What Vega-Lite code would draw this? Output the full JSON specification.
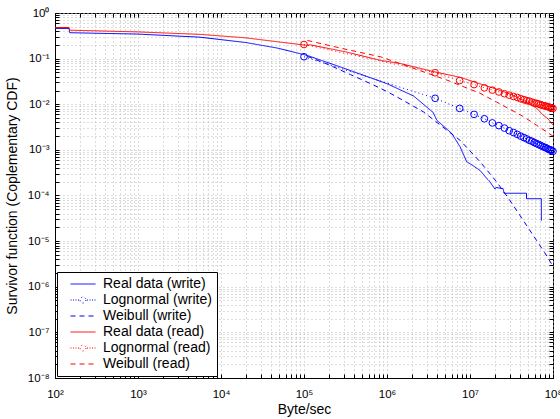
{
  "$schema": "https://vega.github.io/schema/vega-lite/v6.json",
  "width": 498,
  "height": 365,
  "autosize": {"type": "none"},
  "padding": {"left": 55, "top": 13, "right": 7, "bottom": 41},
  "background": "white",
  "config": {
    "view": {"stroke": "black", "strokeWidth": 1},
    "font": "Liberation Sans",
    "axis": {
      "labelFont": "Liberation Sans", "titleFont": "Liberation Sans",
      "labelColor": "black", "titleColor": "black", "tickColor": "black", "domainColor": "black",
      "titleFontWeight": "normal", "labelFontSize": 11.5, "titleFontSize": 14,
      "labelOverlap": false, "labelFlush": false, "labelBound": false
    }
  },
  "data": {"values": [
    {"s": "Real data (write)", "x": 100, "y": 0.46},
    {"s": "Real data (write)", "x": 148, "y": 0.46},
    {"s": "Real data (write)", "x": 150, "y": 0.37},
    {"s": "Real data (write)", "x": 1000, "y": 0.345},
    {"s": "Real data (write)", "x": 5600, "y": 0.295},
    {"s": "Real data (write)", "x": 20000, "y": 0.225},
    {"s": "Real data (write)", "x": 48000, "y": 0.17},
    {"s": "Real data (write)", "x": 110000, "y": 0.117},
    {"s": "Real data (write)", "x": 316000, "y": 0.06},
    {"s": "Real data (write)", "x": 1000000, "y": 0.0282},
    {"s": "Real data (write)", "x": 2100000, "y": 0.0151},
    {"s": "Real data (write)", "x": 3600000, "y": 0.0066},
    {"s": "Real data (write)", "x": 3980000, "y": 0.00447},
    {"s": "Real data (write)", "x": 5000000, "y": 0.0031},
    {"s": "Real data (write)", "x": 6030000, "y": 0.00229},
    {"s": "Real data (write)", "x": 7590000, "y": 0.00117},
    {"s": "Real data (write)", "x": 9120000, "y": 0.00055},
    {"s": "Real data (write)", "x": 10500000, "y": 0.00047},
    {"s": "Real data (write)", "x": 11500000, "y": 0.00042},
    {"s": "Real data (write)", "x": 13200000, "y": 0.000355},
    {"s": "Real data (write)", "x": 15800000, "y": 0.00024},
    {"s": "Real data (write)", "x": 17000000, "y": 0.00021},
    {"s": "Real data (write)", "x": 20000000, "y": 0.000138},
    {"s": "Real data (write)", "x": 20500000, "y": 0.00015},
    {"s": "Real data (write)", "x": 25100000, "y": 0.000141},
    {"s": "Real data (write)", "x": 25700000, "y": 0.000112},
    {"s": "Real data (write)", "x": 47900000, "y": 0.000112},
    {"s": "Real data (write)", "x": 48000000, "y": 0.000085},
    {"s": "Real data (write)", "x": 72400000, "y": 0.000085},
    {"s": "Real data (write)", "x": 72500000, "y": 0.000028},

    {"s": "Weibull (write)", "x": 110000, "y": 0.112},
    {"s": "Weibull (write)", "x": 190000, "y": 0.076},
    {"s": "Weibull (write)", "x": 363000, "y": 0.0447},
    {"s": "Weibull (write)", "x": 692000, "y": 0.0263},
    {"s": "Weibull (write)", "x": 1000000, "y": 0.019},
    {"s": "Weibull (write)", "x": 1510000, "y": 0.0126},
    {"s": "Weibull (write)", "x": 2750000, "y": 0.0068},
    {"s": "Weibull (write)", "x": 4570000, "y": 0.0033},
    {"s": "Weibull (write)", "x": 7590000, "y": 0.00162},
    {"s": "Weibull (write)", "x": 13200000, "y": 0.00055},
    {"s": "Weibull (write)", "x": 20900000, "y": 0.0002},
    {"s": "Weibull (write)", "x": 28800000, "y": 0.000089},
    {"s": "Weibull (write)", "x": 39800000, "y": 0.000037},
    {"s": "Weibull (write)", "x": 63100000, "y": 0.0000105},
    {"s": "Weibull (write)", "x": 79400000, "y": 0.0000056},
    {"s": "Weibull (write)", "x": 100000000, "y": 0.0000028},

    {"s": "Real data (read)", "x": 100, "y": 0.48},
    {"s": "Real data (read)", "x": 148, "y": 0.48},
    {"s": "Real data (read)", "x": 150, "y": 0.42},
    {"s": "Real data (read)", "x": 1000, "y": 0.385},
    {"s": "Real data (read)", "x": 5600, "y": 0.34},
    {"s": "Real data (read)", "x": 20000, "y": 0.285},
    {"s": "Real data (read)", "x": 48000, "y": 0.234},
    {"s": "Real data (read)", "x": 105000, "y": 0.197},
    {"s": "Real data (read)", "x": 120000, "y": 0.2},
    {"s": "Real data (read)", "x": 316000, "y": 0.141},
    {"s": "Real data (read)", "x": 830000, "y": 0.092},
    {"s": "Real data (read)", "x": 1450000, "y": 0.078},
    {"s": "Real data (read)", "x": 3800000, "y": 0.051},
    {"s": "Real data (read)", "x": 7600000, "y": 0.039},
    {"s": "Real data (read)", "x": 13200000, "y": 0.028},
    {"s": "Real data (read)", "x": 20000000, "y": 0.022},
    {"s": "Real data (read)", "x": 33000000, "y": 0.0158},
    {"s": "Real data (read)", "x": 40000000, "y": 0.0132},
    {"s": "Real data (read)", "x": 52000000, "y": 0.0105},
    {"s": "Real data (read)", "x": 60000000, "y": 0.0086},
    {"s": "Real data (read)", "x": 63000000, "y": 0.0083},
    {"s": "Real data (read)", "x": 76000000, "y": 0.0058},
    {"s": "Real data (read)", "x": 87000000, "y": 0.0048},
    {"s": "Real data (read)", "x": 100000000, "y": 0.0035},

    {"s": "Weibull (read)", "x": 110000, "y": 0.25},
    {"s": "Weibull (read)", "x": 330000, "y": 0.158},
    {"s": "Weibull (read)", "x": 830000, "y": 0.11},
    {"s": "Weibull (read)", "x": 2000000, "y": 0.063},
    {"s": "Weibull (read)", "x": 5250000, "y": 0.034},
    {"s": "Weibull (read)", "x": 13200000, "y": 0.0174},
    {"s": "Weibull (read)", "x": 20900000, "y": 0.0112},
    {"s": "Weibull (read)", "x": 43700000, "y": 0.0054},
    {"s": "Weibull (read)", "x": 63100000, "y": 0.0035},
    {"s": "Weibull (read)", "x": 100000000, "y": 0.002},

    {"s": "Lognormal (write)", "x": 100000, "y": 0.11},
    {"s": "Lognormal (write)", "x": 3800000, "y": 0.0135},
    {"s": "Lognormal (write)", "x": 7500000, "y": 0.0081},
    {"s": "Lognormal (write)", "x": 11200000, "y": 0.006},
    {"s": "Lognormal (write)", "x": 14900000, "y": 0.0048},
    {"s": "Lognormal (write)", "x": 18600000, "y": 0.0039},
    {"s": "Lognormal (write)", "x": 22300000, "y": 0.0034},
    {"s": "Lognormal (write)", "x": 26000000, "y": 0.003},
    {"s": "Lognormal (write)", "x": 29700000, "y": 0.00263},
    {"s": "Lognormal (write)", "x": 33400000, "y": 0.0024},
    {"s": "Lognormal (write)", "x": 37100000, "y": 0.00219},
    {"s": "Lognormal (write)", "x": 40800000, "y": 0.002},
    {"s": "Lognormal (write)", "x": 44500000, "y": 0.00186},
    {"s": "Lognormal (write)", "x": 48200000, "y": 0.00174},
    {"s": "Lognormal (write)", "x": 51900000, "y": 0.00162},
    {"s": "Lognormal (write)", "x": 55600000, "y": 0.00155},
    {"s": "Lognormal (write)", "x": 59300000, "y": 0.00145},
    {"s": "Lognormal (write)", "x": 63000000, "y": 0.00138},
    {"s": "Lognormal (write)", "x": 66700000, "y": 0.00132},
    {"s": "Lognormal (write)", "x": 70400000, "y": 0.00126},
    {"s": "Lognormal (write)", "x": 74100000, "y": 0.0012},
    {"s": "Lognormal (write)", "x": 77800000, "y": 0.00115},
    {"s": "Lognormal (write)", "x": 81500000, "y": 0.00112},
    {"s": "Lognormal (write)", "x": 85200000, "y": 0.00107},
    {"s": "Lognormal (write)", "x": 88900000, "y": 0.00102},
    {"s": "Lognormal (write)", "x": 92600000, "y": 0.001},
    {"s": "Lognormal (write)", "x": 96300000, "y": 0.00098},
    {"s": "Lognormal (write)", "x": 100000000, "y": 0.00093},

    {"s": "Lognormal (read)", "x": 100000, "y": 0.204},
    {"s": "Lognormal (read)", "x": 3800000, "y": 0.049},
    {"s": "Lognormal (read)", "x": 7500000, "y": 0.033},
    {"s": "Lognormal (read)", "x": 11200000, "y": 0.027},
    {"s": "Lognormal (read)", "x": 14900000, "y": 0.0229},
    {"s": "Lognormal (read)", "x": 18600000, "y": 0.0204},
    {"s": "Lognormal (read)", "x": 22300000, "y": 0.0186},
    {"s": "Lognormal (read)", "x": 26000000, "y": 0.017},
    {"s": "Lognormal (read)", "x": 29700000, "y": 0.0158},
    {"s": "Lognormal (read)", "x": 33400000, "y": 0.0148},
    {"s": "Lognormal (read)", "x": 37100000, "y": 0.0141},
    {"s": "Lognormal (read)", "x": 40800000, "y": 0.0132},
    {"s": "Lognormal (read)", "x": 44500000, "y": 0.0126},
    {"s": "Lognormal (read)", "x": 48200000, "y": 0.012},
    {"s": "Lognormal (read)", "x": 51900000, "y": 0.0117},
    {"s": "Lognormal (read)", "x": 55600000, "y": 0.0112},
    {"s": "Lognormal (read)", "x": 59300000, "y": 0.0107},
    {"s": "Lognormal (read)", "x": 63000000, "y": 0.0105},
    {"s": "Lognormal (read)", "x": 66700000, "y": 0.0102},
    {"s": "Lognormal (read)", "x": 70400000, "y": 0.0098},
    {"s": "Lognormal (read)", "x": 74100000, "y": 0.0095},
    {"s": "Lognormal (read)", "x": 77800000, "y": 0.0093},
    {"s": "Lognormal (read)", "x": 81500000, "y": 0.0091},
    {"s": "Lognormal (read)", "x": 85200000, "y": 0.0089},
    {"s": "Lognormal (read)", "x": 88900000, "y": 0.0087},
    {"s": "Lognormal (read)", "x": 92600000, "y": 0.0085},
    {"s": "Lognormal (read)", "x": 96300000, "y": 0.0083},
    {"s": "Lognormal (read)", "x": 100000000, "y": 0.0081}
  ]},
  "resolve": {"axis": {"x": "independent", "y": "independent"}},
  "layer": [
    {
      "mark": {"type": "line", "strokeWidth": 1, "clip": true},
      "encoding": {
        "x": {
          "field": "x", "type": "quantitative",
          "scale": {"type": "log", "domain": [100, 100000000], "nice": false},
          "axis": {
            "orient": "bottom", "title": "Byte/sec",
            "values": [100,200,300,400,500,600,700,800,900,1000,2000,3000,4000,5000,6000,7000,8000,9000,10000,20000,30000,40000,50000,60000,70000,80000,90000,100000,200000,300000,400000,500000,600000,700000,800000,900000,1000000,2000000,3000000,4000000,5000000,6000000,7000000,8000000,9000000,10000000,20000000,30000000,40000000,50000000,60000000,70000000,80000000,90000000,100000000],
            "labelExpr": "abs(log(datum.value)/LN10 - round(log(datum.value)/LN10)) < 0.001 ? '10' + (round(log(datum.value)/LN10) < 0 ? '⁻' : '') + ['⁰','¹','²','³','⁴','⁵','⁶','⁷','⁸','⁹'][abs(round(log(datum.value)/LN10))] : ''",
            "grid": true, "gridDash": [1, 3], "gridColor": "#b8b8b8", "gridWidth": 1,
            "tickSize": -4, "labelPadding": 14, "titlePadding": 3
          }
        },
        "y": {
          "field": "y", "type": "quantitative",
          "scale": {"type": "log", "domain": [0.00000001, 1], "nice": false},
          "axis": {
            "orient": "left", "title": "Survivor function (Coplementary CDF)",
            "values": [1e-8,2e-8,3e-8,4e-8,5e-8,6e-8,7e-8,8e-8,9e-8,1e-7,2e-7,3e-7,4e-7,5e-7,6e-7,7e-7,8e-7,9e-7,1e-6,2e-6,3e-6,4e-6,5e-6,6e-6,7e-6,8e-6,9e-6,1e-5,2e-5,3e-5,4e-5,5e-5,6e-5,7e-5,8e-5,9e-5,1e-4,2e-4,3e-4,4e-4,5e-4,6e-4,7e-4,8e-4,9e-4,0.001,0.002,0.003,0.004,0.005,0.006,0.007,0.008,0.009,0.01,0.02,0.03,0.04,0.05,0.06,0.07,0.08,0.09,0.1,0.2,0.3,0.4,0.5,0.6,0.7,0.8,0.9,1],
            "labelExpr": "abs(log(datum.value)/LN10 - round(log(datum.value)/LN10)) < 0.001 ? '10' + (round(log(datum.value)/LN10) < 0 ? '⁻' : '') + ['⁰','¹','²','³','⁴','⁵','⁶','⁷','⁸','⁹'][abs(round(log(datum.value)/LN10))] : ''",
            "grid": true, "gridDash": [1, 3], "gridColor": "#b8b8b8", "gridWidth": 1,
            "tickSize": -4, "labelPadding": 10, "titlePadding": 8
          }
        },
        "color": {
          "field": "s", "type": "nominal",
          "scale": {
            "domain": ["Real data (write)", "Lognormal (write)", "Weibull (write)", "Real data (read)", "Lognormal (read)", "Weibull (read)"],
            "range": ["#0000ff", "#0000ff", "#0000ff", "#ff0000", "#ff0000", "#ff0000"]
          },
          "legend": {
            "title": null, "orient": "bottom-left", "offset": 2,
            "strokeColor": "black", "fillColor": "white", "padding": 5,
            "labelFont": "Liberation Sans", "labelFontSize": 14, "labelColor": "black",
            "symbolSize": 100, "symbolStrokeWidth": 1, "symbolOffset": 14, "labelOffset": 13, "rowPadding": 2,
            "symbolType": "stroke",
            "encode": {
              "symbols": {
                "update": {
                  "shape": {"signal": "indexof(datum.value,'Lognormal')>=0 ? 'M-2.5,0h0.2M-2,0h0.2M-1.5,0h0.2M-1,0h0.2M0.8,0h0.2M1.3,0h0.2M1.8,0h0.2M2.3,0h0.2M0.6,0A0.6,0.6,0,1,1,-0.6,0A0.6,0.6,0,1,1,0.6,0' : 'M-2.5,0H2.5'"},
                  "strokeDash": {"signal": "indexof(datum.value,'Weibull')>=0 ? [5,4] : [1,0]"},
                  "fill": {"value": "transparent"}
                }
              }
            }
          }
        },
        "strokeDash": {
          "field": "s", "type": "nominal",
          "scale": {
            "domain": ["Real data (write)", "Lognormal (write)", "Weibull (write)", "Real data (read)", "Lognormal (read)", "Weibull (read)"],
            "range": [[1, 0], [1, 3], [5, 4], [1, 0], [1, 3], [5, 4]]
          },
          "legend": null
        }
      }
    },
    {
      "transform": [{"filter": "indexof(datum.s, 'Lognormal') >= 0"}],
      "mark": {"type": "point", "shape": "circle", "filled": false, "size": 45, "strokeWidth": 1, "opacity": 1},
      "encoding": {
        "x": {
          "field": "x", "type": "quantitative",
          "scale": {"type": "log", "domain": [100, 100000000], "nice": false},
          "axis": {
            "orient": "top", "title": null, "labels": false, "grid": false, "domain": false,
            "values": [100,200,300,400,500,600,700,800,900,1000,2000,3000,4000,5000,6000,7000,8000,9000,10000,20000,30000,40000,50000,60000,70000,80000,90000,100000,200000,300000,400000,500000,600000,700000,800000,900000,1000000,2000000,3000000,4000000,5000000,6000000,7000000,8000000,9000000,10000000,20000000,30000000,40000000,50000000,60000000,70000000,80000000,90000000,100000000],
            "tickSize": -4
          }
        },
        "y": {
          "field": "y", "type": "quantitative",
          "scale": {"type": "log", "domain": [0.00000001, 1], "nice": false},
          "axis": {
            "orient": "right", "title": null, "labels": false, "grid": false, "domain": false,
            "values": [1e-8,2e-8,3e-8,4e-8,5e-8,6e-8,7e-8,8e-8,9e-8,1e-7,2e-7,3e-7,4e-7,5e-7,6e-7,7e-7,8e-7,9e-7,1e-6,2e-6,3e-6,4e-6,5e-6,6e-6,7e-6,8e-6,9e-6,1e-5,2e-5,3e-5,4e-5,5e-5,6e-5,7e-5,8e-5,9e-5,1e-4,2e-4,3e-4,4e-4,5e-4,6e-4,7e-4,8e-4,9e-4,0.001,0.002,0.003,0.004,0.005,0.006,0.007,0.008,0.009,0.01,0.02,0.03,0.04,0.05,0.06,0.07,0.08,0.09,0.1,0.2,0.3,0.4,0.5,0.6,0.7,0.8,0.9,1],
            "tickSize": -4
          }
        },
        "color": {"field": "s", "type": "nominal"}
      }
    }
  ]
}
